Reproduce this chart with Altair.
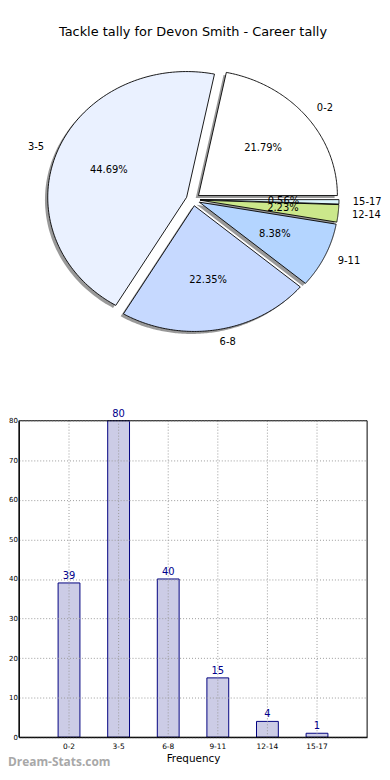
import altair as alt
import pandas as pd

# ---------------- data ----------------
title_text = "Tackle tally for Devon Smith - Career tally"
categories = ["0-2", "3-5", "6-8", "9-11", "12-14", "15-17"]
counts = [39, 80, 40, 15, 4, 1]
y_ticks = [0, 10, 20, 30, 40, 50, 60, 70, 80]
x_title = "Frequency"
watermark_text = "Dream-Stats.com"

# ---------------- style ----------------
slice_colors = ["#ffffff", "#eaf1ff", "#c6d9ff", "#b4d5ff", "#cbe88b", "#dcf6fd"]
FONT = "DejaVu Sans"
GRID = "#9a9a9a"
N = 120          # arc resolution per slice
EXPLODE = 0.05   # matplotlib-like explode
W, H = 351, 732

df = pd.DataFrame({"cat": categories, "count": counts, "idx": list(range(len(categories)))})

# pie (elliptical, like the non-equal-aspect original) drawn through linear scales
def pie_x():
    return alt.Scale(domain=[-1.25, 1.25], range=[0.6, 350.6], nice=False, zero=False)

def pie_y():
    return alt.Scale(domain=[-1.25, 1.25], range=[348.4, 31.6], nice=False, zero=False)

base = (
    alt.Chart(df)
    .transform_joinaggregate(total="sum(count)")
    .transform_window(cum="sum(count)", sort=[alt.SortField("idx", order="ascending")], frame=[None, 0])
    .transform_calculate(a0="2*PI*(datum.cum - datum.count)/datum.total")
    .transform_calculate(a1="2*PI*datum.cum/datum.total")
    .transform_calculate(mid="(datum.a0 + datum.a1)/2")
    .transform_calculate(ex=f"{EXPLODE}*cos(datum.mid)")
    .transform_calculate(ey=f"{EXPLODE}*sin(datum.mid)")
    .transform_calculate(pct="format(100*datum.count/datum.total, '.2f') + '%'")
)

poly = (
    base
    .transform_calculate(seq=f"sequence(0, {N + 2})")
    .transform_flatten(["seq"], as_=["k"])
    .transform_calculate(ang=f"datum.a0 + (datum.a1 - datum.a0)*max(datum.k - 1, 0)/{N}")
    .transform_calculate(edge="datum.k == 0 ? 0 : 1")
    .transform_calculate(px="datum.ex + datum.edge*cos(datum.ang)")
    .transform_calculate(py="datum.ey + datum.edge*sin(datum.ang)")
    .transform_calculate(sx="datum.px - 0.02")
    .transform_calculate(sy="datum.py - 0.02")
)

shadow = poly.mark_line(interpolate="linear-closed", strokeOpacity=0).encode(
    x=alt.X("sx:Q", scale=pie_x(), axis=None),
    y=alt.Y("sy:Q", scale=pie_y(), axis=None),
    fill=alt.value("#000000"),
    fillOpacity=alt.value(0.4),
    detail="cat:N",
    order="k:Q",
)

slices = poly.mark_line(interpolate="linear-closed", stroke="#000000", strokeWidth=0.9).encode(
    x=alt.X("px:Q", scale=pie_x(), axis=None),
    y=alt.Y("py:Q", scale=pie_y(), axis=None),
    fill=alt.Fill("cat:N", scale=alt.Scale(domain=categories, range=slice_colors), legend=None),
    order="k:Q",
)

lab = (
    base.transform_calculate(lx="datum.ex + 1.1*cos(datum.mid)")
    .transform_calculate(ly="datum.ey + 1.1*sin(datum.mid)")
)
lab_right = lab.transform_filter("datum.lx >= 0").mark_text(
    align="left", baseline="middle", fontSize=10, font=FONT, color="#000000"
).encode(x=alt.X("lx:Q", scale=pie_x(), axis=None), y=alt.Y("ly:Q", scale=pie_y(), axis=None), text="cat:N")
lab_left = lab.transform_filter("datum.lx < 0").mark_text(
    align="right", baseline="middle", fontSize=10, font=FONT, color="#000000"
).encode(x=alt.X("lx:Q", scale=pie_x(), axis=None), y=alt.Y("ly:Q", scale=pie_y(), axis=None), text="cat:N")

pct = (
    base.transform_calculate(qx="datum.ex + 0.6*cos(datum.mid)")
    .transform_calculate(qy="datum.ey + 0.6*sin(datum.mid)")
    .mark_text(align="center", baseline="middle", fontSize=10, font=FONT, color="#000000")
    .encode(x=alt.X("qx:Q", scale=pie_x(), axis=None), y=alt.Y("qy:Q", scale=pie_y(), axis=None), text="pct:N")
)

# ---------------- bar chart ----------------
def xb_scale():
    return alt.Scale(type="band", domain=categories, paddingInner=0.56, paddingOuter=0.79)

def yb_scale():
    return alt.Scale(domain=[y_ticks[0], y_ticks[-1]], range=[H, 413], nice=False)

x_axis = alt.Axis(
    orient="bottom", title=x_title, labelAngle=0, labelFontSize=7.5, labelFont=FONT, labelColor="#000000",
    ticks=False, labelPadding=5, domainColor="#000000", domainWidth=1, grid=False, bandPosition=0.5,
    titleFontSize=10.5, titleFont=FONT, titleFontWeight="normal", titleColor="#000000", titlePadding=4, zindex=1,
)
y_axis = alt.Axis(
    orient="left", values=y_ticks, title=None, labelFontSize=7, labelFont=FONT, labelColor="#000000",
    ticks=False, labelPadding=1.5, domainColor="#000000", domainWidth=1,
    grid=True, gridColor=GRID, gridDash=[1, 2], gridWidth=1, zindex=1,
)

bars = alt.Chart(df).mark_bar(
    fill="#000080", fillOpacity=0.2, stroke="#000080", strokeWidth=1
).encode(
    x=alt.X("cat:N", scale=xb_scale(), axis=x_axis),
    y=alt.Y("count:Q", scale=yb_scale(), axis=y_axis),
)

grid_x = alt.Chart(df).transform_calculate(
    lo=str(y_ticks[0]), hi=str(y_ticks[-1])
).mark_rule(stroke=GRID, strokeDash=[1, 2], strokeWidth=1).encode(
    x=alt.X("cat:N", scale=xb_scale(), axis=None),
    y=alt.Y("lo:Q", scale=yb_scale(), axis=None),
    y2="hi:Q",
)

bar_text = alt.Chart(df).mark_text(
    baseline="bottom", dy=-2, fontSize=10, font=FONT, color="#00008b"
).encode(
    x=alt.X("cat:N", scale=xb_scale(), axis=None),
    y=alt.Y("count:Q", scale=yb_scale(), axis=None),
    text="count:Q",
)

frame = alt.Chart(pd.DataFrame({"lo": [y_ticks[0]], "hi": [y_ticks[-1]]})).mark_rect(
    filled=False, stroke="#000000", strokeWidth=1
).encode(
    x=alt.value(0), x2=alt.value(W),
    y=alt.Y("lo:Q", scale=yb_scale(), axis=None), y2="hi:Q",
)

wm = alt.Chart(pd.DataFrame({"t": [watermark_text]})).mark_text(
    align="left", baseline="alphabetic", fontSize=12, fontWeight="bold", font="Open Sans", color="#a8a8a8"
).encode(x=alt.value(-11), y=alt.value(761), text="t:N")

chart = (
    alt.layer(shadow, slices, lab_right, lab_left, pct, bars, grid_x, bar_text, frame, wm)
    .resolve_scale(x="independent", y="independent", fill="independent")
    .properties(
        width=W, height=H,
        autosize=alt.AutoSizeParams(type="none"),
        padding={"left": 11, "top": 0, "right": 15, "bottom": 32},
        title=alt.TitleParams(
            text=title_text, fontSize=13, font=FONT, fontWeight="normal", color="#000000",
            anchor="middle", frame="group", offset=0, dy=28,
        ),
    )
    .configure(font=FONT)
    .configure_view(strokeWidth=0)
)

chart.save("out.html", embed_options={"renderer": "svg", "actions": False})
